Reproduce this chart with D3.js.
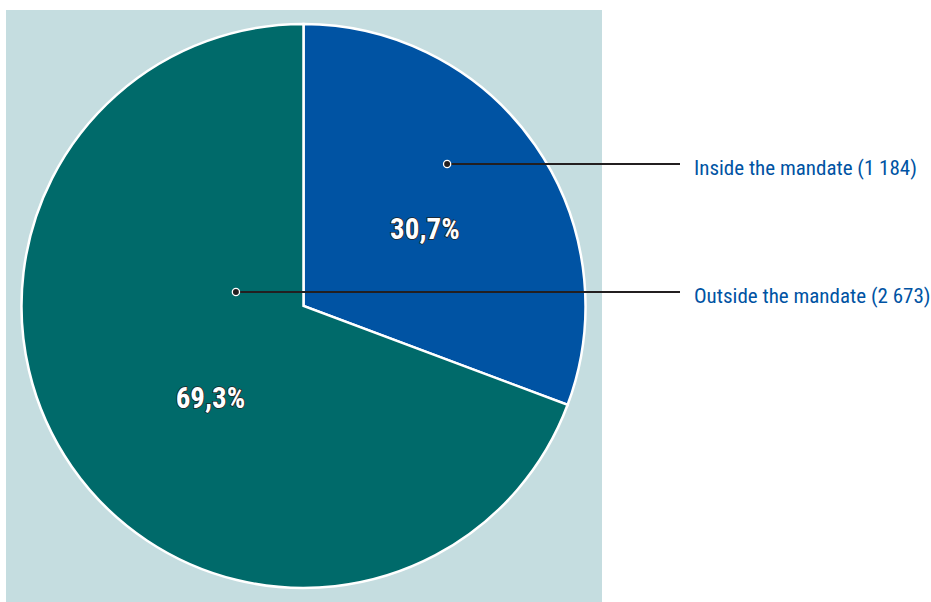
<!DOCTYPE html>
<html>
<head>
<meta charset="utf-8">
<script src="https://cdn.jsdelivr.net/npm/d3@7"></script>
<style>
  html, body { margin: 0; padding: 0; background: #ffffff; }
  svg { display: block; }
</style>
</head>
<body>
<svg id="chart" width="931" height="602"></svg>
<script>
// Cases by mandate status
const categories = ["Inside the mandate", "Outside the mandate"];
const counts = [1184, 2673];
const countLabels = ["1 184", "2 673"];
const percentLabels = ["30,7%", "69,3%"];
const colors = ["#0053a3", "#006a6a"];

const svg = d3.select("#chart");
const W = 931, H = 602;
const fontStack = "'Liberation Sans Narrow', 'Roboto Condensed', 'Arial Narrow', sans-serif";

// panel behind the pie
svg.append("rect")
  .attr("x", 6).attr("y", 10)
  .attr("width", 596).attr("height", H - 10)
  .attr("fill", "#c5dde0");

const cx = 303.5, cy = 306, R = 282;
const g = svg.append("g").attr("transform", `translate(${cx},${cy})`);

const pie = d3.pie().sort(null).value(d => d)(counts);
const arc = d3.arc().innerRadius(0).outerRadius(R);

g.selectAll("path.slice")
  .data(pie)
  .join("path")
  .attr("class", "slice")
  .attr("d", arc)
  .attr("fill", (d, i) => colors[i])
  .attr("stroke", "#ffffff")
  .attr("stroke-width", 2.5)
  .attr("stroke-linejoin", "miter");

// point inside a slice: fraction along its sweep, distance from centre
const inSlice = (d, frac, r) =>
  d3.pointRadial(d.startAngle + frac * (d.endAngle - d.startAngle), r);

// percentage labels inside the slices
const pctPos = [inSlice(pie[0], 0.52, 144), inSlice(pie[1], 0.46, 131)];
g.selectAll("text.pct")
  .data(pie)
  .join("text")
  .attr("class", "pct")
  .attr("x", (d, i) => pctPos[i][0])
  .attr("y", (d, i) => pctPos[i][1])
  .attr("text-anchor", "middle")
  .attr("dominant-baseline", "central")
  .attr("font-family", fontStack)
  .attr("font-weight", "bold")
  .attr("font-size", 29)
  .attr("fill", "#ffffff")
  .attr("stroke", "#222222")
  .attr("stroke-width", 1.6)
  .attr("paint-order", "stroke")
  .text((d, i) => percentLabels[i]);

// leader lines to the category labels
const dotPos = [inSlice(pie[0], 0.41, 202), inSlice(pie[1], 0.686, 69)];
const lineEndX = 680 - cx;

const leaders = g.selectAll("g.leader")
  .data(pie)
  .join("g")
  .attr("class", "leader");

leaders.append("line")
  .attr("x1", (d, i) => dotPos[i][0])
  .attr("y1", (d, i) => dotPos[i][1])
  .attr("x2", lineEndX)
  .attr("y2", (d, i) => dotPos[i][1])
  .attr("stroke", "#231f20")
  .attr("stroke-width", 2);

leaders.append("circle")
  .attr("cx", (d, i) => dotPos[i][0])
  .attr("cy", (d, i) => dotPos[i][1])
  .attr("r", 3.6)
  .attr("fill", "#231f20")
  .attr("stroke", "#ffffff")
  .attr("stroke-width", 1.3);

leaders.append("text")
  .attr("x", lineEndX + 14)
  .attr("y", (d, i) => dotPos[i][1] + 4)
  .attr("dominant-baseline", "central")
  .attr("font-family", fontStack)
  .attr("font-size", 21)
  .attr("fill", "#0053a3")
  .text((d, i) => `${categories[i]} (${countLabels[i]})`);
</script>
</body>
</html>
